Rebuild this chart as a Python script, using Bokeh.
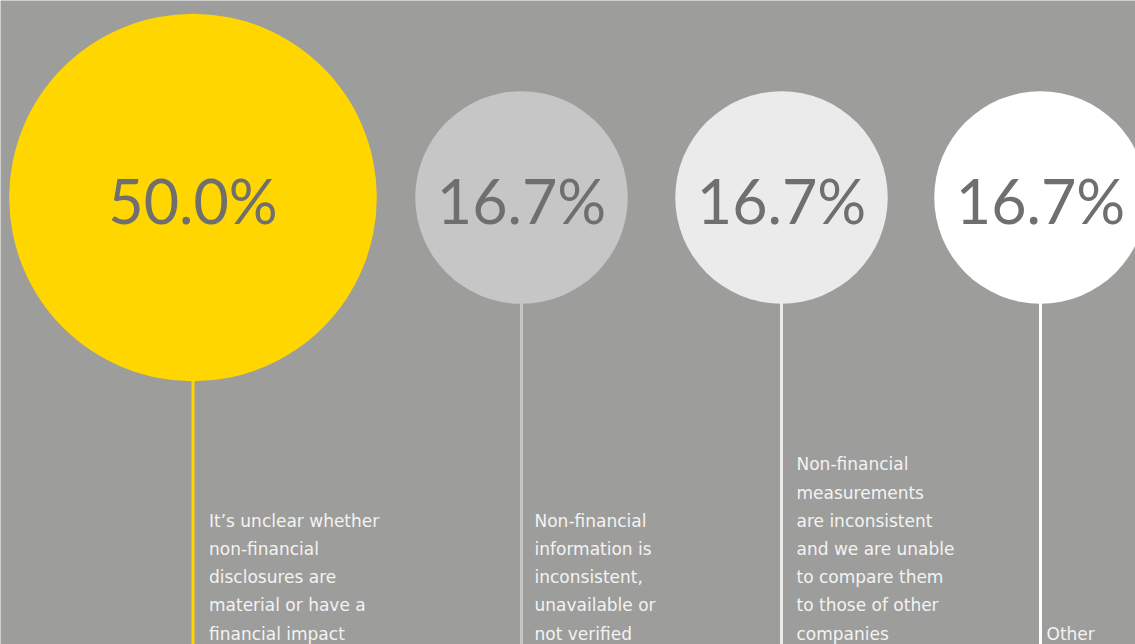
from bokeh.plotting import figure
from bokeh.models import Range1d, ColumnDataSource
from bokeh.core.properties import value
from bokeh.embed import file_html
from bokeh.resources import INLINE
import math

# ---- data ----
shares = [50.0, 16.7, 16.7, 16.7]
labels = [
    ["It\u2019s unclear whether", "non-financial", "disclosures are", "material or have a", "financial impact"],
    ["Non-financial", "information is", "inconsistent,", "unavailable or", "not verified"],
    ["Non-financial", "measurements", "are inconsistent", "and we are unable", "to compare them", "to those of other", "companies"],
    ["Other"],
]

# ---- layout / style ----
centers_x = [192.5, 521, 781, 1040]
label_dx = [16, 13, 15, 6]
center_y = 197
scale_k = 26.0            # px radius per sqrt(percent) -> circle area ~ share
fills = ["#ffd600", "#c6c6c6", "#ebebeb", "#ffffff"]
bg = "#9d9d9b"
W, H = 1135, 644

p = figure(width=W, height=H, output_backend="svg", toolbar_location=None,
           x_range=Range1d(0, W), y_range=Range1d(H, 0),
           min_border=0, background_fill_color=bg, border_fill_color=bg)
p.axis.visible = False
p.grid.visible = False
p.outline_line_color = None

radii = [scale_k * math.sqrt(s) for s in shares]

# connector lines
for cx, r, c in zip(centers_x, radii, fills):
    p.segment(x0=[cx], y0=[center_y + r - 2], x1=[cx], y1=[H + 20],
              line_color=c, line_width=3)

# circles
src = ColumnDataSource(dict(x=centers_x, y=[center_y] * 4, ty=[center_y + 3] * 4,
                            r=radii, c=fills,
                            t=[f"{s:.1f}%" for s in shares]))
p.circle(x="x", y="y", radius="r", radius_dimension="x", fill_color="c",
         line_color=None, source=src)
p.text(x="x", y="ty", text="t", source=src, text_align="center",
       text_baseline="alphabetic", text_font=value("Lato"), text_font_size="61px",
       text_color="#6f6f6f")

# labels
lx, ly, lt = [], [], []
base = 633
step = 28.2
for cx, dx, lines in zip(centers_x, label_dx, labels):
    n = len(lines)
    for i, s in enumerate(lines):
        lx.append(cx + dx)
        ly.append(base - (n - 1 - i) * step)
        lt.append(s)
p.text(x=lx, y=ly, text=lt, text_align="left", text_baseline="alphabetic",
       text_font=value("DejaVu Sans"), text_font_size="17px", text_color="#f3f3f3")

open("out.html", "w").write(file_html(p, INLINE))
